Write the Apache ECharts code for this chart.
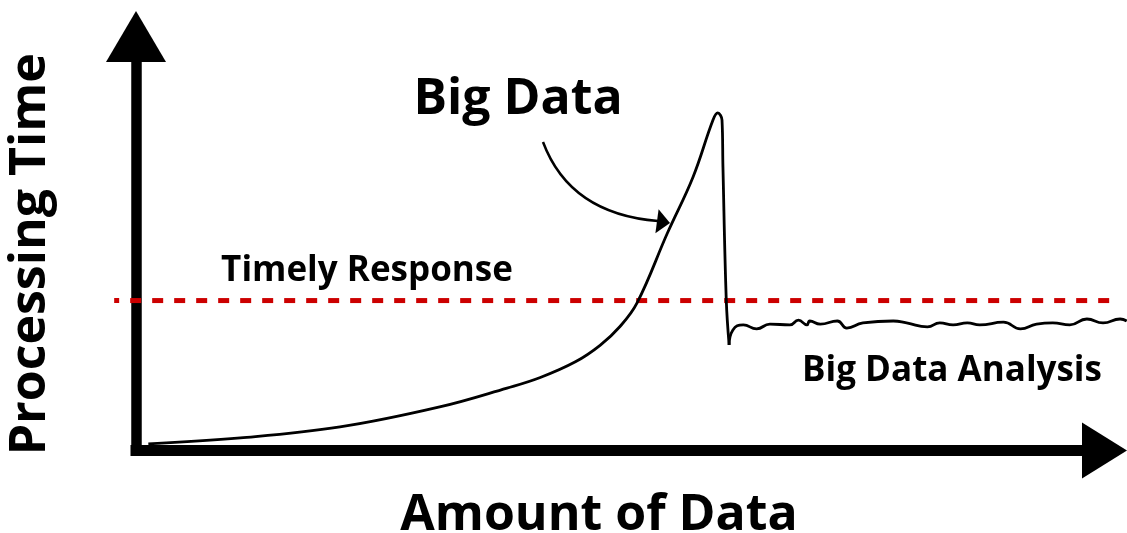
<!DOCTYPE html>
<html>
<head>
<meta charset="utf-8">
<script src="https://cdn.jsdelivr.net/npm/echarts@6/dist/echarts.min.js"></script>
<style>
    html, body { margin: 0; padding: 0; background: #fff; }
    #chart { width: 1127px; height: 533px; }
</style>
</head>
<body>
<div id="chart"></div>
<script>
// amount of data (0-100 along the x axis) vs processing time (0-100 up the y axis)
const growthX = [1.3, 11.0, 21.5, 32.0, 39.1, 42.6, 46.3, 48.9, 51.0, 52.8, 56.0, 58.7, 60.8, 61.3, 61.75, 61.85, 62.2, 62.5];
const growthY = [1.7, 3.2, 6.0, 11.1, 15.9, 18.6, 22.6, 26.8, 31.6, 37.6, 55.4, 69.7, 84.2, 86.0, 84.2, 72.2, 38.3, 26.9];

// after the drop: big data analysis keeps time roughly flat
const analysisX = [62.5, 62.9, 64.0, 65.4, 66.8, 68.9, 69.8, 70.7, 71.0, 72.1, 73.9, 74.9, 76.6, 79.8, 81.2, 83.4, 84.7, 86.1, 87.6, 88.9, 91.4, 93.2, 94.9, 96.6, 98.4, 100.2, 101.9, 103.7, 104.4];
const analysisY = [26.9, 30.7, 32.0, 31.0, 32.2, 32.0, 33.2, 32.0, 33.0, 32.2, 33.0, 31.2, 32.5, 33.0, 32.5, 31.5, 32.5, 32.0, 32.5, 32.0, 32.7, 31.0, 32.2, 32.5, 32.0, 33.5, 32.5, 33.5, 33.0];

// timely response threshold
const thresholdX = [-2.3, 103.4];
const thresholdY = 38.2;

const labelFont = '"Open Sans", "DejaVu Sans", sans-serif';

const growthData = growthX.map((x, i) => [x, growthY[i]]);
const analysisData = analysisX.map((x, i) => [x, analysisY[i]]);
const thresholdData = thresholdX.map((x) => [x, thresholdY]);

const hiddenAxis = {
    show: false,
    axisLine: { show: false },
    axisTick: { show: false },
    axisLabel: { show: false },
    splitLine: { show: false },
};

const curveStyle = { color: '#000', width: 2.8 };

const chart = echarts.init(document.getElementById('chart'));

chart.setOption({
    animation: false,
    backgroundColor: '#fff',
    grid: [
        // frame with the two arrows
        { left: 136, right: 42, top: 58, bottom: 82.5, containLabel: false, outerBoundsMode: 'none' },
        // drawing area, wider so the lines can run past the arrows like the sketch
        { left: 114, right: 0, top: 58, bottom: 82.5, containLabel: false, outerBoundsMode: 'none' },
    ],
    xAxis: [
        {
            type: 'value',
            gridIndex: 0,
            min: 0,
            max: 100,
            name: 'Amount of Data',
            nameLocation: 'middle',
            nameGap: 40,
            nameTextStyle: {
                fontFamily: labelFont,
                fontWeight: 'bold',
                fontSize: 50,
                color: '#000',
                padding: [0, 23, 0, 0],
            },
            axisLine: {
                onZero: false,
                symbol: ['none', 'triangle'],
                symbolSize: [56, 45],
                symbolOffset: [0, 19.5],
                lineStyle: { color: '#000', width: 11, cap: 'square' },
            },
            axisTick: { show: false },
            axisLabel: { show: false },
            splitLine: { show: false },
        },
        Object.assign({ type: 'value', gridIndex: 1, min: -2.318, max: 104.426 }, hiddenAxis),
    ],
    yAxis: [
        {
            type: 'value',
            gridIndex: 0,
            min: 0,
            max: 100,
            name: 'Processing Time',
            nameLocation: 'middle',
            nameGap: 80,
            nameTextStyle: {
                fontFamily: labelFont,
                fontWeight: 'bold',
                fontSize: 50,
                color: '#000',
            },
            axisLine: {
                onZero: false,
                symbol: ['none', 'triangle'],
                symbolSize: [60, 51],
                symbolOffset: [0, 21.5],
                lineStyle: { color: '#000', width: 10.5, cap: 'square' },
            },
            axisTick: { show: false },
            axisLabel: { show: false },
            splitLine: { show: false },
        },
        Object.assign({ type: 'value', gridIndex: 1, min: 0, max: 100 }, hiddenAxis),
    ],
    series: [
        {
            type: 'line',
            name: 'Timely Response',
            xAxisIndex: 1,
            yAxisIndex: 1,
            data: thresholdData,
            symbol: 'none',
            z: 1,
            lineStyle: { color: '#cc0000', width: 5, type: [11, 11], dashOffset: 6 },
        },
        {
            type: 'line',
            name: 'Big Data',
            xAxisIndex: 1,
            yAxisIndex: 1,
            data: growthData,
            smooth: 0.4,
            symbol: 'none',
            z: 3,
            lineStyle: curveStyle,
        },
        {
            type: 'line',
            name: 'Big Data Analysis',
            xAxisIndex: 1,
            yAxisIndex: 1,
            data: analysisData,
            smooth: 0.5,
            symbol: 'none',
            z: 3,
            lineStyle: curveStyle,
        },
    ],
    graphic: [
        {
            type: 'text',
            style: {
                text: 'Big Data', x: 518, y: 100,
                font: 'bold 50px ' + labelFont, fill: '#000',
                textAlign: 'center', textVerticalAlign: 'middle',
            },
        },
        {
            type: 'text',
            style: {
                text: 'Timely Response', x: 367, y: 271,
                font: 'bold 35px ' + labelFont, fill: '#000',
                textAlign: 'center', textVerticalAlign: 'middle',
            },
        },
        {
            type: 'text',
            style: {
                text: 'Big Data Analysis', x: 952, y: 371,
                font: 'bold 35px ' + labelFont, fill: '#000',
                textAlign: 'center', textVerticalAlign: 'middle',
            },
        },
        {
            type: 'bezierCurve',
            shape: { x1: 543, y1: 142, x2: 658, y2: 221, cpx1: 570, cpy1: 214 },
            style: { stroke: '#000', lineWidth: 2.5, fill: null },
        },
        {
            type: 'polygon',
            shape: { points: [[670, 223], [658.6, 209.3], [655.4, 233.3]] },
            style: { fill: '#000' },
        },
    ],
});
</script>
</body>
</html>
